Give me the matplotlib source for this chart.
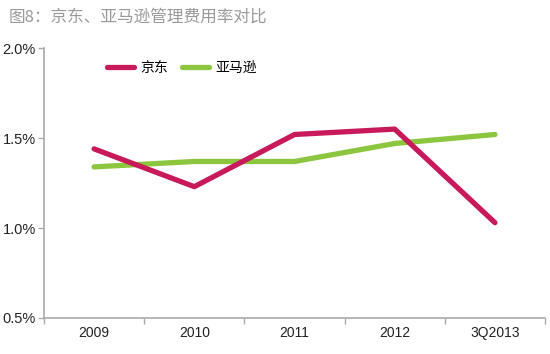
import matplotlib
matplotlib.use('Agg')
import matplotlib.pyplot as plt
from matplotlib.ticker import FuncFormatter, FixedLocator

plt.rcParams['font.family'] = ['Noto Sans CJK SC', 'DejaVu Sans']

# 数据
categories = ['2009', '2010', '2011', '2012', '3Q2013']
jd = [1.44, 1.23, 1.52, 1.55, 1.03]
amazon = [1.34, 1.37, 1.37, 1.47, 1.52]

fig = plt.figure(figsize=(5.5, 3.54), dpi=100)
ax = fig.add_axes([0.08, 0.1017, 0.911, 0.7623])

x = list(range(len(categories)))
ax.plot(x, jd, color='#C8195A', linewidth=3.8, solid_capstyle='round', label='京东', zorder=3)
ax.plot(x, amazon, color='#8CC63F', linewidth=3.8, solid_capstyle='round', label='亚马逊', zorder=2)

ax.set_xlim(-0.5, len(categories) - 0.5)
ax.set_ylim(0.5, 2.0)
ax.set_yticks([0.5, 1.0, 1.5, 2.0])
ax.yaxis.set_major_formatter(FuncFormatter(lambda v, p: f'{v:.1f}%'))

ax.set_xticks(x)
ax.set_xticklabels(categories)
ax.xaxis.set_minor_locator(FixedLocator([i - 0.5 for i in range(len(categories) + 1)]))
ax.tick_params(axis='x', which='major', length=0, pad=6, labelsize=10, labelcolor='#222222')
ax.tick_params(axis='x', which='minor', length=4, color='#AAAAAA', width=1)
ax.tick_params(axis='y', length=4, color='#AAAAAA', width=1, labelsize=10.5, labelcolor='#222222', pad=2)
for lbl in ax.get_xticklabels() + ax.get_yticklabels():
    lbl.set_fontfamily('Liberation Sans')

for s in ['top', 'right']:
    ax.spines[s].set_visible(False)
for s in ['left', 'bottom']:
    ax.spines[s].set_color('#AAAAAA')
    ax.spines[s].set_linewidth(1.2)

ax.legend(loc='upper left', bbox_to_anchor=(0.1, 1.0), ncol=2, frameon=False,
          fontsize=10, handlelength=2.0, columnspacing=1.0, handletextpad=0.4)

fig.text(0.015, 0.975, '图8：京东、亚马逊管理费用率对比', fontsize=12, color='#9A9A9A',
         ha='left', va='top')

fig.savefig('out.png', dpi=100)
